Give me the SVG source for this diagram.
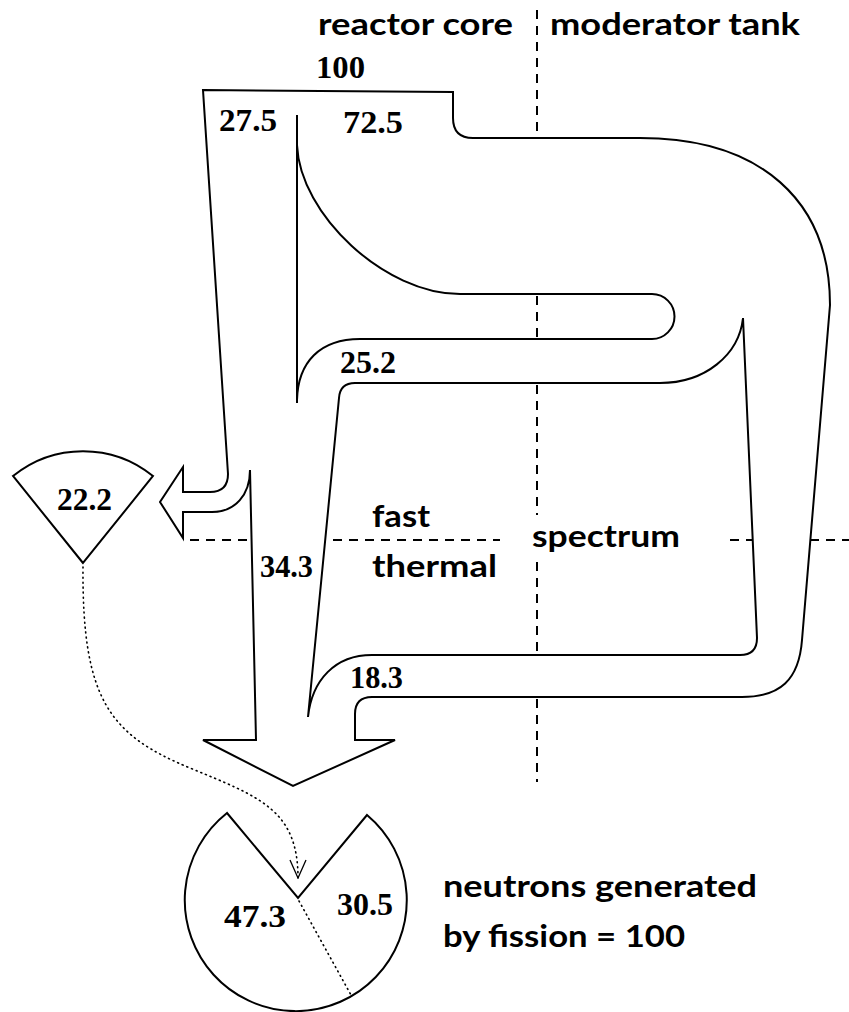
<svg xmlns="http://www.w3.org/2000/svg" width="849" height="1012" viewBox="0 0 849 1012">
  <defs>
    <style>
      .flow { fill: none; stroke: #000; stroke-width: 2; stroke-linejoin: miter; }
      .div { fill: none; stroke: #000; stroke-width: 2; stroke-dasharray: 9 7; }
      .dots { fill: none; stroke: #000; stroke-width: 1.6; stroke-dasharray: 1 4; stroke-linecap: round; }
      .num { font-family: "Liberation Serif", "Times New Roman", serif; font-weight: bold; font-size: 32px; fill: #000; }
      .lbl { font-family: Lato, "Open Sans", "Liberation Sans", sans-serif; font-weight: bold; font-size: 30px; fill: #000; }
    </style>
    <marker id="openArrow" viewBox="0 0 20 18" refX="19" refY="9" markerWidth="20" markerHeight="18" markerUnits="userSpaceOnUse" orient="auto">
      <path d="M1,1 L19,9 L1,17" fill="none" stroke="#000" stroke-width="1.3"/>
    </marker>
  </defs>
  <rect width="849" height="1012" fill="#fff"/>

  <!-- region dividers -->
  <g id="dividers">
    <path class="div" d="M537,10 V136 M537,296 V338 M537,385 V515 M537,562 V654 M537,699 V782"/>
    <path class="div" d="M190,540 H250 M333,540 H500 M730,540 H752 M810,540 H849"/>
  </g>

  <!-- outer flow boundary: 100 in, leakage arrow, return arrow to fission -->
  <g id="outer-flow">
    <path class="flow" d="M203,90 L453,92 L453,118 Q453,138 473,138 L640,138 C760,138 830,200 830,305 L802,640 C799,680 780,697 742,697 L372,697 Q355,697 355,714 L355,740 L395,740 L293,786 L203,740 L256,740 L250,470 C250,495 235,512 212,512 L183,512 L183,538 L160,502 L183,467 L183,492 L210,492 Q228,492 228,474 Z"/>
  </g>

  <!-- fast branch into moderator and loop back -->
  <g id="fast-branch">
    <path class="flow" d="M297,115 L297,403 M297,145 C300,215 385,294 460,294 L652,294 A22.5,22.5 0 0 1 652,339 L360,339 C320,339 298,362 297,400"/>
  </g>

  <!-- thermal return channel -->
  <g id="thermal-channel">
    <path class="flow" d="M743,318 C739,355 705,383 660,383 L355,383 Q340,383 339,398 L308,717 C312,680 335,655 372,655 L740,655 Q757,655 757,638 Z"/>
  </g>

  <!-- leakage sector -->
  <g id="leakage">
    <path class="flow" d="M83,563 L13,476 A111,111 0 0 1 153,476 Z"/>
    <text class="num" x="57" y="510" textLength="55" lengthAdjust="spacingAndGlyphs">22.2</text>
  </g>

  <!-- fission pie -->
  <g id="fission">
    <path class="flow" d="M227,813 L298,898 L367,815 A111,111 0 1 1 227,813 Z"/>
    <path class="dots" d="M299,901 L351,995"/>
    <text class="num" x="224" y="927" textLength="62" lengthAdjust="spacingAndGlyphs">47.3</text>
    <text class="num" x="337" y="915" textLength="56" lengthAdjust="spacingAndGlyphs">30.5</text>
  </g>

  <!-- connectors -->
  <g id="connectors">
    <path class="dots" d="M83,567 C82,700 110,735 190,768 C260,797 298,810 298,878" marker-end="url(#openArrow)"/>
  </g>

  <!-- flow values -->
  <g id="values">
    <text class="num" x="316" y="78" textLength="49" lengthAdjust="spacingAndGlyphs">100</text>
    <text class="num" x="219" y="131" textLength="58" lengthAdjust="spacingAndGlyphs">27.5</text>
    <text class="num" x="343" y="133" textLength="60" lengthAdjust="spacingAndGlyphs">72.5</text>
    <text class="num" x="340" y="373" textLength="56" lengthAdjust="spacingAndGlyphs">25.2</text>
    <text class="num" x="260" y="577" textLength="53" lengthAdjust="spacingAndGlyphs">34.3</text>
    <text class="num" x="350" y="688" textLength="53" lengthAdjust="spacingAndGlyphs">18.3</text>
  </g>

  <!-- region labels -->
  <g id="labels">
    <text class="lbl" x="318" y="35" textLength="195" lengthAdjust="spacingAndGlyphs">reactor core</text>
    <text class="lbl" x="550" y="35" textLength="250" lengthAdjust="spacingAndGlyphs">moderator tank</text>
    <text class="lbl" x="372" y="527" textLength="58" lengthAdjust="spacingAndGlyphs">fast</text>
    <text class="lbl" x="372" y="577" textLength="125" lengthAdjust="spacingAndGlyphs">thermal</text>
    <text class="lbl" x="532" y="547" textLength="148" lengthAdjust="spacingAndGlyphs">spectrum</text>
    <text class="lbl" x="443" y="897" textLength="314" lengthAdjust="spacingAndGlyphs">neutrons generated</text>
    <text class="lbl" x="443" y="947" textLength="242" lengthAdjust="spacingAndGlyphs">by fission = 100</text>
  </g>
</svg>
